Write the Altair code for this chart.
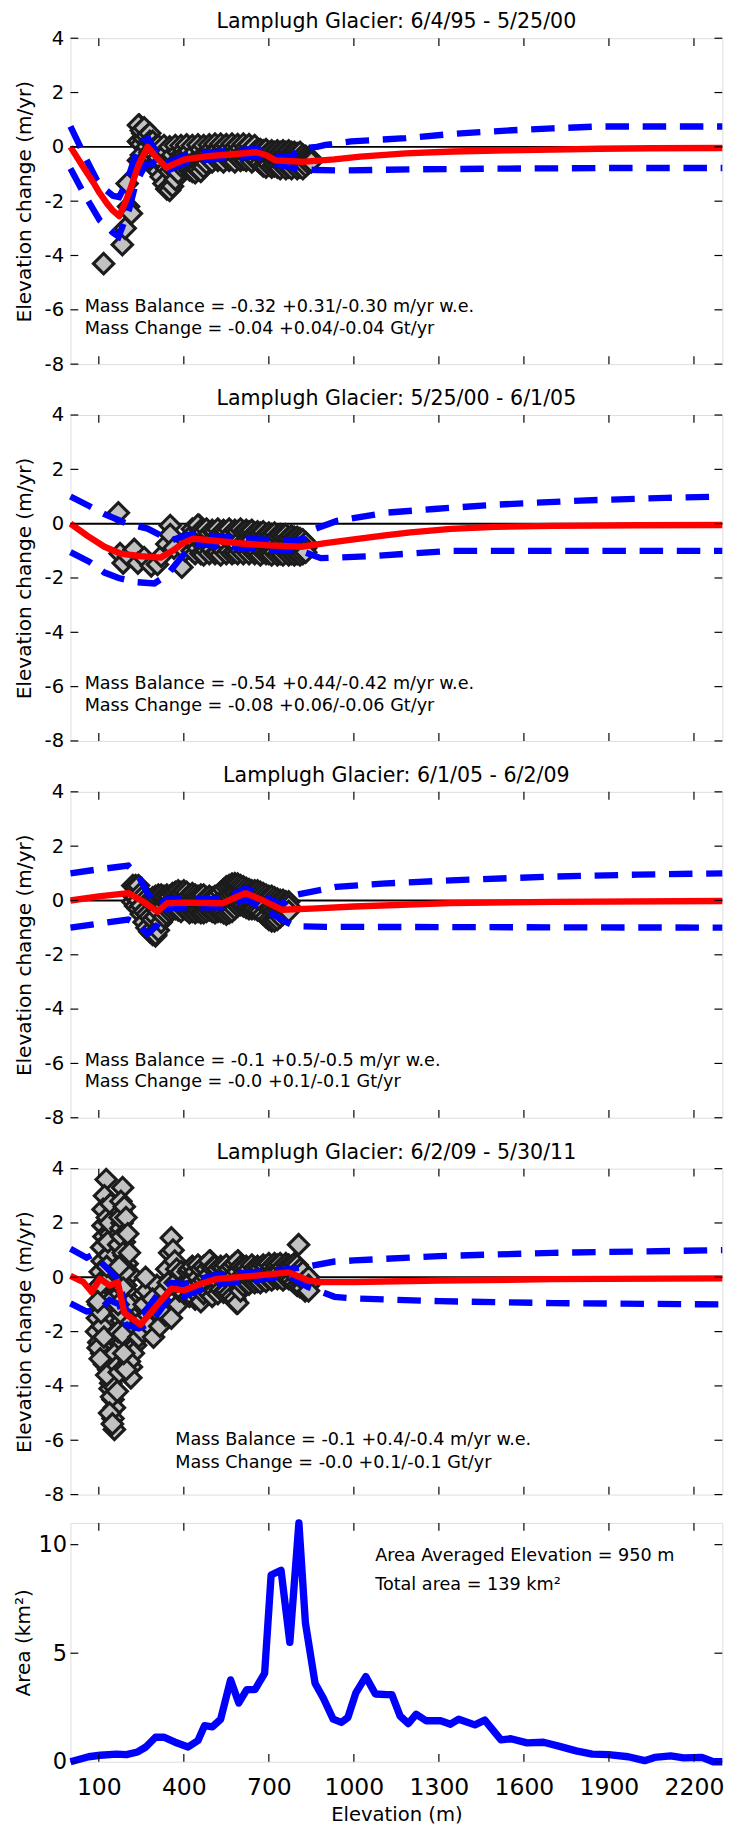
import altair as alt
import pandas as pd

FONT = "DejaVu Sans"
W, H, HA = 666, 333, 244

X_DOMAIN = [0, 2300]
Y_DOMAIN = [-8, 4]
AREA_DOMAIN = [0, 11]
X_TICKS = [100, 400, 700, 1000, 1300, 1600, 1900, 2200]
Y_TICKS = [4, 2, 0, -2, -4, -6, -8]
AREA_TICKS = [0, 5, 10]

TITLES = ["Lamplugh Glacier: 6/4/95 - 5/25/00", "Lamplugh Glacier: 5/25/00 - 6/1/05",
          "Lamplugh Glacier: 6/1/05 - 6/2/09", "Lamplugh Glacier: 6/2/09 - 5/30/11"]
MB_TEXT = ["Mass Balance = -0.32 +0.31/-0.30 m/yr w.e.", "Mass Balance = -0.54 +0.44/-0.42 m/yr w.e.",
           "Mass Balance = -0.1 +0.5/-0.5 m/yr w.e.", "Mass Balance = -0.1 +0.4/-0.4 m/yr w.e."]
MC_TEXT = ["Mass Change = -0.04 +0.04/-0.04 Gt/yr", "Mass Change = -0.08 +0.06/-0.06 Gt/yr",
           "Mass Change = -0.0 +0.1/-0.1 Gt/yr", "Mass Change = -0.0 +0.1/-0.1 Gt/yr"]
TEXT_X = [50, 50, 50, 370]
TEXT_Y1 = [-5.9, -5.9, -5.9, -6.0]
TEXT_Y2 = [-6.7, -6.7, -6.7, -6.85]

# ---------------- Panel 1 ----------------
P1_SPARSE_E = [117, 183, 193, 205, 215, 200, 243, 255]
P1_SPARSE_V = [-4.3, -3.6, -3.0, -2.2, -2.45, -1.35, 0.8, 0.5]
P1_BAND = [  # elevation, upper, middle, lower
    (240, 0.8, 0.2, -0.5), (250, 0.6, 0.1, -0.3), (260, 0.7, 0.3, -0.5), (270, 0.4, 0.0, -0.45),
    (280, 0.5, 0.2, -0.2), (290, 0.2, -0.1, -0.4), (300, 0.0, -0.3, -0.6), (310, 0.05, -0.4, -0.9),
    (320, -0.1, -0.6, -1.1), (330, 0.05, -0.6, -1.35), (340, -0.2, -0.8, -1.55), (350, 0.0, -0.9, -1.6),
    (360, -0.3, -0.8, -1.45), (370, 0.05, -0.6, -1.2), (380, -0.2, -0.5, -0.95), (390, 0.05, -0.3, -0.7),
    (400, -0.1, -0.3, -0.55), (410, 0.07, -0.35, -0.7), (420, -0.15, -0.45, -0.85), (430, 0.05, -0.4, -0.9),
    (440, -0.2, -0.5, -0.95), (450, 0.07, -0.45, -0.85), (460, -0.1, -0.4, -0.9), (470, 0.05, -0.35, -0.75),
    (480, -0.2, -0.4, -0.6), (490, 0.07, -0.2, -0.45), (500, -0.05, -0.3, -0.55), (510, 0.1, -0.15, -0.4),
    (520, -0.1, -0.3, -0.5), (530, 0.1, -0.2, -0.45), (540, 0.0, -0.25, -0.55), (550, 0.08, -0.15, -0.4),
    (560, -0.05, -0.3, -0.5), (570, 0.1, -0.2, -0.45), (580, 0.0, -0.25, -0.55), (590, 0.08, -0.15, -0.4),
    (600, -0.05, -0.3, -0.5), (610, 0.1, -0.2, -0.45), (620, 0.0, -0.25, -0.5), (630, 0.08, -0.15, -0.4),
    (640, -0.05, -0.3, -0.55), (650, 0.05, -0.2, -0.45), (660, -0.1, -0.3, -0.5), (670, -0.1, -0.35, -0.6),
    (680, -0.15, -0.4, -0.7), (690, -0.1, -0.45, -0.75), (700, -0.2, -0.4, -0.65), (710, -0.15, -0.45, -0.75),
    (720, -0.2, -0.45, -0.7), (730, -0.15, -0.5, -0.75), (740, -0.2, -0.45, -0.8), (750, -0.15, -0.45, -0.7),
    (760, -0.2, -0.5, -0.8), (770, -0.15, -0.45, -0.75), (780, -0.2, -0.5, -0.8), (790, -0.2, -0.45, -0.7),
    (800, -0.25, -0.5, -0.8), (810, -0.2, -0.45, -0.75), (820, -0.3, -0.55, -0.8), (830, -0.35, -0.5, -0.7),
    (840, -0.4, -0.5, -0.6), (850, -0.45, -0.5, -0.55),
]
P1_RED_E = [0, 46, 80, 103, 130, 150, 172, 195, 213, 241, 272, 300, 338, 403, 494, 563, 655, 690, 724,
            817, 931, 1023, 1183, 1350, 1538, 1700, 1863, 2050, 2300]
P1_RED_V = [0, -0.76, -1.3, -1.7, -2.1, -2.35, -2.55, -2.0, -1.5, -0.65, 0.0, -0.35, -0.76, -0.46, -0.33,
            -0.28, -0.2, -0.3, -0.5, -0.55, -0.46, -0.36, -0.24, -0.17, -0.13, -0.1, -0.07, -0.05, -0.04]
P1_UP_E = [0, 30, 60, 92, 120, 150, 172, 200, 230, 255, 275, 300, 338, 403, 494, 563, 655, 690, 724, 780,
           817, 870, 900, 990, 1183, 1350, 1538, 1700, 1863, 2300]
P1_UP_V = [0.75, 0.1, -0.55, -1.2, -1.55, -1.8, -1.85, -1.25, -0.3, 0.2, 0.3, -0.15, -0.6, -0.32, -0.2,
           -0.15, -0.08, -0.18, -0.35, -0.35, -0.05, 0.0, 0.07, 0.2, 0.32, 0.48, 0.6, 0.68, 0.75, 0.75]
P1_LO_E = [0, 46, 103, 149, 170, 207, 230, 265, 300, 338, 403, 494, 563, 655, 690, 724, 817, 870, 956,
           1200, 1538, 1900, 2300]
P1_LO_V = [-0.8, -1.7, -2.7, -3.15, -3.3, -2.3, -1.35, -0.65, -0.6, -0.9, -0.6, -0.46, -0.42, -0.35, -0.45,
           -0.65, -0.83, -0.85, -0.87, -0.83, -0.8, -0.78, -0.78]

# ---------------- Panel 2 ----------------
P2_SPARSE_E = [169, 175, 186, 205, 225, 238, 260, 285, 307, 320, 340, 352, 352, 365, 393, 405, 420, 455]
P2_SPARSE_V = [0.4, -1.1, -1.45, -1.2, -0.95, -1.45, -1.25, -1.55, -1.5, -1.2, -0.75, -0.07, -0.4, -0.9,
               -1.6, -1.0, -0.5, -0.07]
P2_BAND = [
    (430, -0.2, -0.6, -1.0), (440, -0.3, -0.7, -1.1), (450, -0.05, -0.5, -0.9), (460, -0.25, -0.65, -1.1),
    (470, -0.3, -0.8, -1.15), (480, -0.2, -0.6, -1.0), (490, -0.35, -0.75, -1.1), (500, -0.25, -0.6, -0.95),
    (510, -0.3, -0.7, -1.1), (520, -0.2, -0.65, -1.05), (530, -0.35, -0.8, -1.15), (540, -0.25, -0.6, -1.0),
    (550, -0.3, -0.75, -1.1), (560, -0.2, -0.6, -1.0), (570, -0.35, -0.7, -1.1), (580, -0.25, -0.65, -1.05),
    (590, -0.3, -0.8, -1.1), (600, -0.2, -0.6, -1.0), (610, -0.3, -0.7, -1.1), (620, -0.25, -0.65, -1.0),
    (630, -0.3, -0.75, -1.1), (640, -0.25, -0.6, -1.0), (650, -0.35, -0.75, -1.1), (660, -0.3, -0.7, -1.05),
    (670, -0.35, -0.8, -1.15), (680, -0.3, -0.7, -1.05), (690, -0.4, -0.8, -1.1), (700, -0.35, -0.75, -1.1),
    (710, -0.4, -0.8, -1.15), (720, -0.35, -0.75, -1.05), (730, -0.45, -0.85, -1.15), (740, -0.4, -0.8, -1.1),
    (750, -0.45, -0.85, -1.15), (760, -0.4, -0.8, -1.05), (770, -0.5, -0.85, -1.15), (780, -0.45, -0.8, -1.1),
    (790, -0.5, -0.9, -1.15), (800, -0.5, -0.85, -1.1), (810, -0.55, -0.9, -1.15), (820, -0.6, -0.85, -1.1),
    (830, -0.7, -0.9, -1.05),
]
P2_RED_E = [0, 60, 120, 176, 250, 318, 360, 400, 434, 500, 606, 700, 814, 900, 1000, 1110, 1200, 1342,
            1500, 1700, 2000, 2300]
P2_RED_V = [0, -0.45, -0.85, -1.1, -1.2, -1.25, -1.0, -0.7, -0.55, -0.62, -0.73, -0.8, -0.85, -0.72, -0.58,
            -0.43, -0.32, -0.19, -0.12, -0.08, -0.06, -0.05]
P2_UP_E = [0, 66, 120, 159, 200, 272, 318, 360, 400, 434, 500, 606, 700, 790, 828, 860, 940, 1110, 1283,
           1500, 1800, 2100, 2300]
P2_UP_V = [1.0, 0.65, 0.35, 0.18, 0.0, -0.18, -0.43, -0.6, -0.45, -0.38, -0.45, -0.55, -0.6, -0.62, -0.54,
           -0.2, 0.1, 0.4, 0.54, 0.7, 0.85, 0.95, 1.0]
P2_LO_E = [0, 66, 120, 170, 230, 296, 340, 386, 434, 500, 606, 700, 814, 883, 1055, 1342, 1700, 2300]
P2_LO_V = [-1.05, -1.4, -1.8, -2.0, -2.15, -2.2, -1.9, -1.3, -0.75, -0.8, -0.9, -0.95, -1.0, -1.27, -1.2,
           -1.0, -1.0, -1.0]

# ---------------- Panel 3 ----------------
P3_SPARSE_E = [230, 300]
P3_SPARSE_V = [0.55, -1.3]
P3_BAND = [
    (220, 0.55, 0.2, -0.05), (230, 0.5, 0.1, -0.2), (240, 0.55, 0.0, -0.3), (250, 0.3, -0.2, -0.5),
    (260, 0.2, -0.4, -0.8), (270, 0.1, -0.5, -1.0), (280, 0.0, -0.6, -1.15), (290, 0.1, -0.7, -1.25),
    (300, 0.15, -0.6, -1.25), (310, 0.2, -0.4, -1.1), (320, 0.2, -0.2, -0.8), (330, 0.15, -0.2, -0.6),
    (340, 0.2, -0.1, -0.5), (350, 0.15, -0.1, -0.4), (360, 0.25, -0.05, -0.35), (370, 0.3, 0.0, -0.3),
    (380, 0.35, 0.0, -0.35), (390, 0.3, -0.1, -0.4), (400, 0.35, 0.0, -0.3), (410, 0.3, -0.05, -0.35),
    (420, 0.2, -0.1, -0.45), (430, 0.25, -0.15, -0.4), (440, 0.2, -0.1, -0.45), (450, 0.15, -0.05, -0.4),
    (460, 0.2, -0.1, -0.45), (470, 0.2, -0.15, -0.45), (480, 0.1, -0.2, -0.4), (490, 0.15, -0.1, -0.35),
    (500, 0.1, -0.15, -0.4), (510, 0.15, -0.1, -0.45), (520, 0.2, -0.1, -0.4), (530, 0.3, 0.0, -0.4),
    (540, 0.4, 0.05, -0.45), (550, 0.5, 0.1, -0.5), (560, 0.55, 0.15, -0.45), (570, 0.6, 0.2, -0.4),
    (580, 0.62, 0.25, -0.3), (590, 0.6, 0.2, -0.2), (600, 0.55, 0.2, -0.15), (610, 0.5, 0.2, -0.2),
    (620, 0.45, 0.15, -0.25), (630, 0.4, 0.1, -0.3), (640, 0.35, 0.05, -0.3), (650, 0.35, 0.0, -0.3),
    (660, 0.35, -0.05, -0.35), (670, 0.3, -0.1, -0.4), (680, 0.25, -0.15, -0.5), (690, 0.2, -0.2, -0.6),
    (700, 0.15, -0.3, -0.7), (710, 0.15, -0.3, -0.75), (720, 0.1, -0.35, -0.75), (730, 0.05, -0.3, -0.7),
    (740, 0.0, -0.25, -0.6), (750, 0.0, -0.2, -0.5), (760, -0.05, -0.2, -0.45), (770, -0.05, -0.2, -0.4),
]
P3_RED_E = [0, 100, 204, 250, 307, 341, 400, 538, 580, 618, 680, 745, 850, 1000, 1342, 1700, 2300]
P3_RED_V = [0, 0.15, 0.27, 0.0, -0.41, -0.1, -0.08, -0.1, 0.1, 0.27, 0.0, -0.34, -0.3, -0.22, -0.1, -0.05,
            -0.02]
P3_UP_E = [0, 100, 204, 240, 270, 307, 341, 400, 538, 580, 618, 680, 745, 790, 938, 1100, 1342, 1700, 2000,
           2300]
P3_UP_V = [1.0, 1.15, 1.28, 0.9, 0.3, -0.2, 0.05, 0.05, 0.05, 0.25, 0.45, 0.15, -0.15, 0.2, 0.5, 0.62,
           0.74, 0.88, 0.95, 1.0]
P3_LO_E = [0, 100, 204, 240, 272, 307, 341, 400, 538, 618, 680, 745, 790, 900, 1300, 2300]
P3_LO_V = [-1.0, -0.85, -0.7, -0.9, -1.24, -0.9, -0.3, -0.25, -0.25, 0.05, -0.3, -0.7, -0.95, -0.97,
           -0.98, -1.0]

# ---------------- Panel 4 ----------------
P4_SPARSE_E = [126, 120, 115, 115, 118, 110, 112, 105, 109, 100, 95, 92, 100, 110, 120, 135, 150, 140, 150,
               155, 150, 155, 130, 140, 130, 125, 135, 140, 130, 145, 160, 145, 160,
               98, 105, 112, 118, 122, 128, 132, 138, 142, 148, 152, 158, 162, 145, 138, 148, 142, 128,
               118, 108, 102, 96,
               184, 178, 178, 182, 178, 190, 190, 200, 213, 195, 205, 190, 215, 200, 220, 210, 201, 215,
               213, 180, 185, 175, 225, 230, 170, 168, 172, 165,
               175, 180, 186, 192, 198, 204, 210, 218, 222, 208, 196, 188, 183, 176, 186, 168, 172, 190,
               196, 202, 208,
               241, 250, 255, 260, 270, 275, 280, 293, 300, 305, 290, 265,
               315, 320, 330, 335, 340, 345, 350, 356, 362, 368, 356, 370, 375, 380, 385, 390, 395, 402,
               410, 415, 494, 592, 586, 805, 828]
P4_SPARSE_V = [3.6, 3.0, 2.5, 1.9, 1.5, 1.1, 0.6, 0.2, -0.6, -1.0, -1.5, -2.0, -2.4, -2.8, -3.2, -3.4,
               -3.75, -4.1, -4.5, -4.8, -5.2, -5.6, -2.0, -1.5, -1.0, 0.0, 0.8, 1.6, 2.2, -2.6, -3.0,
               -0.4, -1.2,
               -2.6, -3.0, -1.8, -1.2, -0.2, 0.4, 1.3, 2.0, 2.7, -0.8, -2.2, -2.8, -3.3, -4.4, -5.0, -5.4,
               -3.9, -3.6, -2.2, -1.3, -0.3, -0.9,
               3.3, 2.8, 2.4, 2.0, 1.8, 1.3, 0.8, 0.5, 0.12, -0.3, -0.8, -1.2, -1.4, -1.9, -2.2, -2.6,
               -2.95, -3.3, -3.7, -1.6, -2.4, -0.6, -1.8, -2.5, 1.2, -2.0, -3.5, -4.2,
               2.2, 1.5, 0.9, 0.2, -0.5, -1.0, -1.6, -2.0, -2.8, -3.1, -3.4, -2.8, -2.1, -1.3, -0.4, -1.0,
               0.4, 2.6, 2.2, 1.6, 0.9,
               -2.2, -1.6, -2.0, -1.0, -0.5, -1.4, -1.8, -2.2, -1.2, -0.3, -0.8, 0.0,
               -1.8, -1.0, -0.5, -1.4, 0.3, -0.2, 0.9, 1.45, 1.0, 0.6, -1.5, -0.2, 0.3, -1.0, -0.5, 0.2,
               -0.3, -0.6, -0.2, 0.2, 0.6, 0.6, -0.95, 1.2, -0.5]
P4_BAND = [
    (420, 0.3, -0.2, -0.7), (430, 0.4, -0.1, -0.6), (440, 0.2, -0.3, -0.8), (450, 0.45, 0.0, -0.65),
    (460, 0.3, -0.2, -0.9), (470, 0.4, -0.1, -0.6), (480, 0.3, 0.0, -0.5), (490, 0.6, 0.1, -0.6),
    (500, 0.35, -0.1, -0.7), (510, 0.4, 0.0, -0.5), (520, 0.3, -0.15, -0.6), (530, 0.4, 0.0, -0.45),
    (540, 0.35, -0.1, -0.55), (550, 0.45, 0.05, -0.5), (560, 0.3, -0.1, -0.6), (570, 0.4, 0.0, -0.7),
    (580, 0.5, 0.1, -0.8), (590, 0.6, 0.2, -0.95), (600, 0.4, 0.0, -0.5), (610, 0.35, 0.1, -0.3),
    (620, 0.4, 0.05, -0.2), (630, 0.3, 0.0, -0.25), (640, 0.45, 0.1, -0.15), (650, 0.35, 0.05, -0.2),
    (660, 0.4, 0.1, -0.15), (670, 0.35, 0.05, -0.2), (680, 0.45, 0.15, -0.1), (690, 0.4, 0.1, -0.15),
    (700, 0.5, 0.2, -0.05), (710, 0.4, 0.15, -0.1), (720, 0.5, 0.2, 0.0), (730, 0.45, 0.15, -0.05),
    (740, 0.5, 0.25, 0.0), (750, 0.4, 0.15, -0.1), (760, 0.5, 0.2, 0.0), (770, 0.45, 0.2, -0.05),
    (780, 0.4, 0.15, -0.1), (790, 0.5, 0.1, -0.2), (800, 0.45, 0.0, -0.3), (810, 0.3, -0.1, -0.35),
    (820, 0.2, -0.2, -0.4), (840, 0.0, -0.3, -0.5),
]
P4_RED_E = [0, 46, 75, 104, 138, 167, 190, 207, 247, 311, 356, 402, 460, 518, 655, 770, 839, 885, 1000,
            1300, 1700, 2300]
P4_RED_V = [0.05, -0.18, -0.54, -0.06, -0.3, -0.18, -1.32, -1.44, -1.75, -0.96, -0.42, -0.48, -0.24, -0.06,
            0.06, 0.18, -0.12, -0.18, -0.18, -0.12, -0.07, -0.04]
P4_UP_E = [0, 57, 80, 138, 172, 196, 230, 260, 311, 356, 402, 460, 518, 655, 770, 817, 851, 932, 1000, 1300,
           1700, 2300]
P4_UP_V = [1.05, 0.72, 0.84, 0.24, -0.12, -1.2, -1.45, -1.3, -0.6, -0.2, -0.25, -0.05, 0.1, 0.2, 0.3, 0.36,
           0.42, 0.58, 0.62, 0.78, 0.9, 1.0]
P4_LO_E = [0, 57, 104, 138, 172, 196, 241, 280, 311, 356, 402, 460, 518, 655, 770, 839, 932, 1000, 1300,
           1700, 2300]
P4_LO_V = [-0.96, -1.26, -1.2, -0.84, -1.0, -1.75, -1.88, -1.7, -1.3, -0.65, -0.7, -0.45, -0.25, -0.1, 0.05,
           -0.36, -0.72, -0.78, -0.88, -0.95, -1.0]

# ---------------- Area panel ----------------
AREA_E = [0, 64, 105, 162, 197, 237, 266, 300, 329, 369, 415, 450, 473, 501, 530, 565, 594, 622, 651, 685,
          708, 743, 774, 806, 829, 863, 892, 927, 956, 979, 1007, 1042, 1076, 1116, 1134, 1163, 1192, 1220,
          1255, 1306, 1341, 1370, 1427, 1462, 1519, 1554, 1611, 1669, 1726, 1784, 1841, 1899, 1968, 2026,
          2061, 2118, 2164, 2228, 2268, 2300]
AREA_V = [0, 0.23, 0.3, 0.35, 0.33, 0.45, 0.68, 1.13, 1.13, 0.9, 0.68, 0.98, 1.66, 1.61, 1.96, 3.77, 2.71,
          3.32, 3.32, 4.07, 8.6, 8.82, 5.5, 11.0, 6.4, 3.62, 2.94, 1.96, 1.81, 2.04, 3.17, 3.92, 3.12, 3.09,
          3.09, 2.11, 1.76, 2.19, 1.89, 1.89, 1.73, 1.96, 1.7, 1.92, 1.01, 1.06, 0.87, 0.9, 0.71, 0.5, 0.35,
          0.33, 0.23, 0.05, 0.2, 0.27, 0.18, 0.2, 0.0, 0.0]
AREA_TEXT = ["Area Averaged Elevation = 950 m", "Total area = 139 km²"]
AREA_TEXT_X = 1075
AREA_TEXT_Y = [9.46, 8.14]


def xs():
    return alt.Scale(domain=X_DOMAIN, nice=False, zero=False)


def ys(dom):
    return alt.Scale(domain=dom, nice=False, zero=False)


def yaxis(title, values, label_size, pad, tx):
    return alt.Axis(values=values, title=title, labelExpr="'' + datum.value", ticks=False, tickSize=0,
                    domain=False, grid=False, labelPadding=pad, labelFontSize=label_size,
                    titleFontSize=20.5, titleX=tx, titleBaseline="middle", titleAngle=270,
                    labelFont=FONT, titleFont=FONT, titleFontWeight="normal", labelColor="black",
                    titleColor="black")


def tick_layers(yvals, ydom, yaxis_obj, height):
    xt = pd.DataFrame({"e": X_TICKS})
    yt = pd.DataFrame({"v": yvals})
    xenc = alt.X("e:Q", scale=xs(), axis=None)
    yenc = alt.Y("v:Q", scale=ys(ydom), axis=yaxis_obj)
    top = alt.Chart(xt).mark_rule(color="black", strokeWidth=1.2).encode(
        x=xenc, y=alt.value(0), y2=alt.value(8))
    bot = alt.Chart(xt).mark_rule(color="black", strokeWidth=1.2).encode(
        x=xenc, y=alt.value(height - 8), y2=alt.value(height))
    left = alt.Chart(yt).mark_rule(color="black", strokeWidth=1.2).encode(
        y=yenc, x=alt.value(0), x2=alt.value(8))
    right = alt.Chart(yt).mark_rule(color="black", strokeWidth=1.2).encode(
        y=yenc, x=alt.value(W - 8), x2=alt.value(W))
    return [top, bot, left, right]


def panel(i, sp_e, sp_v, band, red_e, red_v, up_e, up_v, lo_e, lo_v):
    yax = yaxis("Elevation change (m/yr)", Y_TICKS, 20, 7, -47)
    xenc = alt.X("e:Q", scale=xs(), axis=None)
    yenc = alt.Y("v:Q", scale=ys(Y_DOMAIN), axis=yax)

    pts_e, pts_v = list(sp_e), list(sp_v)
    for (e, hi, mid, lo) in band:
        pts_e += [e, e, e]
        pts_v += [hi, mid, lo]
    pts = pd.DataFrame({"e": pts_e, "v": pts_v})
    red = pd.DataFrame({"e": red_e, "v": red_v})
    blue = pd.concat([pd.DataFrame({"e": up_e, "v": up_v, "b": "upper"}),
                      pd.DataFrame({"e": lo_e, "v": lo_v, "b": "lower"})])
    txt = pd.DataFrame({"e": [TEXT_X[i], TEXT_X[i]], "v": [TEXT_Y1[i], TEXT_Y2[i]],
                        "t": [MB_TEXT[i], MC_TEXT[i]]})

    zero = alt.Chart(pd.DataFrame({"v": [0]})).mark_rule(color="black", strokeWidth=2).encode(y=yenc)
    dia = alt.Chart(pts).mark_point(shape="diamond", filled=True, fill="#c2c2c2", stroke="#1c1c1c",
                                    strokeWidth=3.2, size=430, opacity=1, fillOpacity=1,
                                    strokeOpacity=1).encode(x=xenc, y=yenc)
    bl = alt.Chart(blue).mark_line(color="#0000ff", strokeWidth=6.5, strokeDash=[24, 14]).encode(
        x=xenc, y=yenc, detail="b:N", order="e:Q")
    rd = alt.Chart(red).mark_line(color="#ff0000", strokeWidth=6.5, strokeJoin="round").encode(
        x=xenc, y=yenc)
    tx = alt.Chart(txt).mark_text(align="left", baseline="middle", fontSize=18, font=FONT,
                                  color="black").encode(x=xenc, y=yenc, text="t:N")
    layers = [zero, dia, bl, rd, tx] + tick_layers(Y_TICKS, Y_DOMAIN, yax, H)
    return alt.layer(*layers).properties(
        width=W, height=H,
        title=alt.TitleParams(TITLES[i], fontSize=21, font=FONT, fontWeight="normal", color="black",
                              offset=-4, frame="group", anchor="middle"))


p1 = panel(0, P1_SPARSE_E, P1_SPARSE_V, P1_BAND, P1_RED_E, P1_RED_V, P1_UP_E, P1_UP_V, P1_LO_E, P1_LO_V)
p2 = panel(1, P2_SPARSE_E, P2_SPARSE_V, P2_BAND, P2_RED_E, P2_RED_V, P2_UP_E, P2_UP_V, P2_LO_E, P2_LO_V)
p3 = panel(2, P3_SPARSE_E, P3_SPARSE_V, P3_BAND, P3_RED_E, P3_RED_V, P3_UP_E, P3_UP_V, P3_LO_E, P3_LO_V)
p4 = panel(3, P4_SPARSE_E, P4_SPARSE_V, P4_BAND, P4_RED_E, P4_RED_V, P4_UP_E, P4_UP_V, P4_LO_E, P4_LO_V)

# area panel
a_yax = yaxis("Area (km²)", AREA_TICKS, 23, 4, -48)
a_xax = alt.Axis(values=X_TICKS, format="d", title="Elevation (m)", labelFontSize=24, titleFontSize=20,
                 ticks=False, tickSize=0, domain=False, grid=False, labelPadding=14, titlePadding=6,
                 labelFont=FONT, titleFont=FONT, titleFontWeight="normal", labelColor="black",
                 titleColor="black")
a_x = alt.X("e:Q", scale=xs(), axis=a_xax)
a_y = alt.Y("v:Q", scale=ys(AREA_DOMAIN), axis=a_yax)
area_df = pd.DataFrame({"e": AREA_E, "v": AREA_V})
area_line = alt.Chart(area_df).mark_line(color="#0000ff", strokeWidth=7.5, strokeJoin="round").encode(
    x=a_x, y=a_y)
area_txt = alt.Chart(pd.DataFrame({"e": [AREA_TEXT_X, AREA_TEXT_X], "v": AREA_TEXT_Y, "t": AREA_TEXT})).mark_text(
    align="left", baseline="middle", fontSize=18, font=FONT, color="black").encode(x=a_x, y=a_y, text="t:N")
xt = pd.DataFrame({"e": X_TICKS})
yt = pd.DataFrame({"v": AREA_TICKS})
a_top = alt.Chart(xt).mark_rule(color="black", strokeWidth=1.2).encode(x=a_x, y=alt.value(0), y2=alt.value(8))
a_bot = alt.Chart(xt).mark_rule(color="black", strokeWidth=1.2).encode(x=a_x, y=alt.value(HA - 8),
                                                                       y2=alt.value(HA))
a_left = alt.Chart(yt).mark_rule(color="black", strokeWidth=1.2).encode(y=a_y, x=alt.value(0), x2=alt.value(8))
a_right = alt.Chart(yt).mark_rule(color="black", strokeWidth=1.2).encode(y=a_y, x=alt.value(W - 8),
                                                                         x2=alt.value(W))
area = alt.layer(area_line, area_txt, a_top, a_bot, a_left, a_right).properties(width=W, height=HA)

chart = alt.vconcat(p1, p2, p3, p4, area, spacing=13).properties(
    padding={"left": 13, "top": -9, "right": 0, "bottom": 0}
).configure_view(stroke="black", strokeWidth=1.5).configure(font=FONT, background="white")

chart.save("out.html", embed_options={"renderer": "svg", "actions": False})
